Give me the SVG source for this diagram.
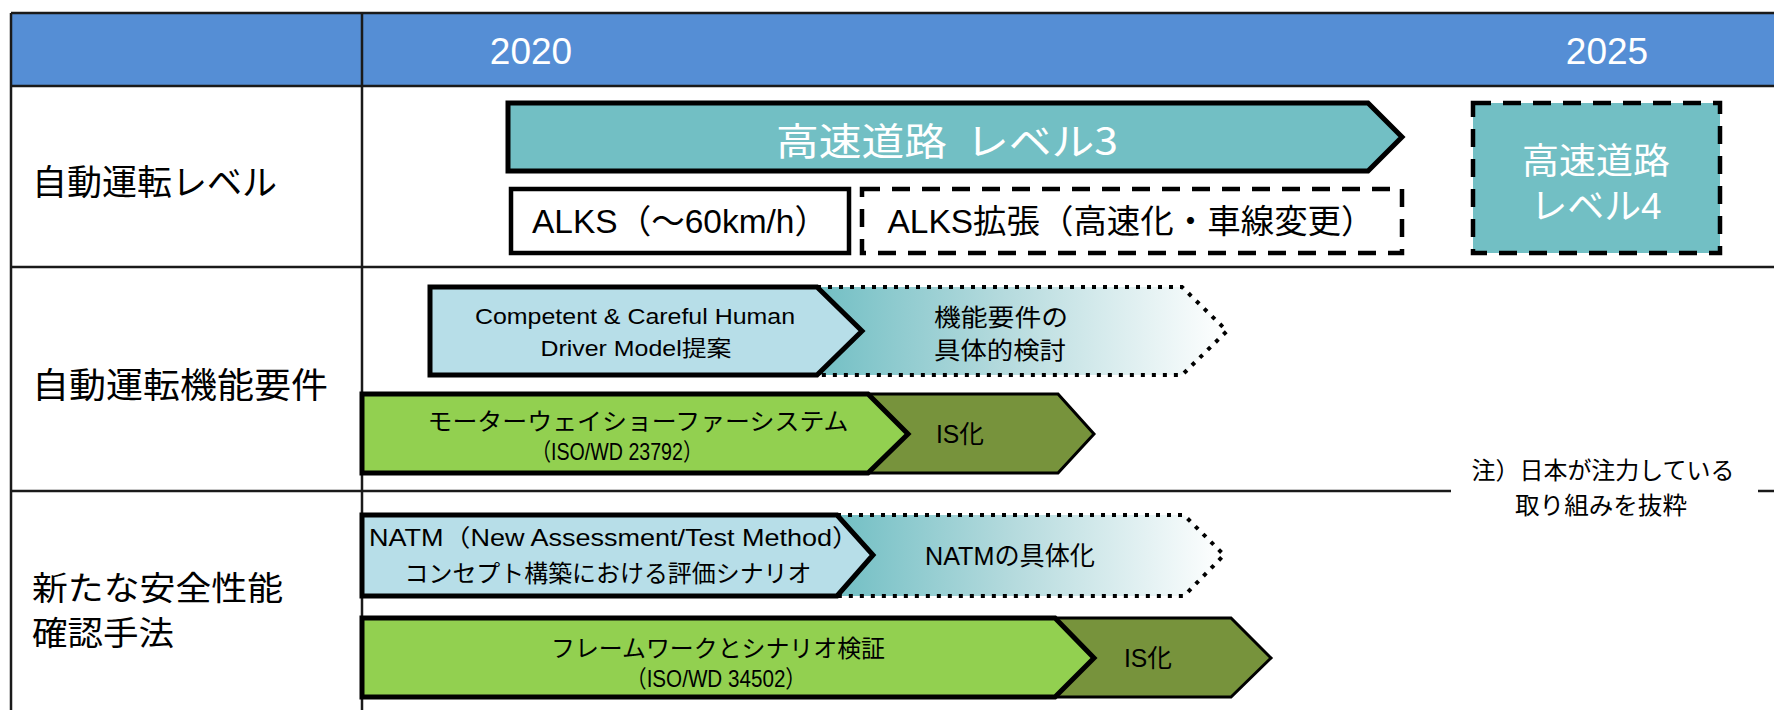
<svg xmlns="http://www.w3.org/2000/svg" width="1774" height="710" viewBox="0 0 1774 710">
<defs>
<style>
.grid{stroke:#1a1a1a;stroke-width:2.5;fill:none}
.jp{font-family:'Noto Sans CJK JP','Noto Sans CJK SC',sans-serif}
.mx{font-family:'Liberation Sans','Noto Sans CJK JP',sans-serif}
text{dominant-baseline:central}
.c{text-anchor:middle}
.w{fill:#ffffff}
.k{fill:#000000}
.solid{stroke:#000;stroke-width:5;stroke-linejoin:miter}
.thin{stroke:#000;stroke-width:3;stroke-linejoin:miter}
.dash{stroke:#000;stroke-width:4.5;stroke-dasharray:18 12;fill:none}
.dot{stroke:#000;stroke-width:4;stroke-dasharray:4 7}
.teal{fill:#72BFC4}
.lblue{fill:#B7DEE8}
.green{fill:#92D050}
.dgreen{fill:#77933C}
</style>
<linearGradient id="fade" x1="0" y1="0" x2="1" y2="0">
<stop offset="0" stop-color="#72BFC4"/>
<stop offset="0.45" stop-color="#B4DADD"/>
<stop offset="1" stop-color="#FFFFFF"/>
</linearGradient>
</defs>
<rect width="1774" height="710" fill="#ffffff"/>

<g id="table">
<rect x="11" y="13" width="1763" height="73" fill="#558ED5"/>
<line class="grid" x1="11" y1="13" x2="1774" y2="13"/>
<line class="grid" x1="11" y1="86" x2="1774" y2="86"/>
<line class="grid" x1="11" y1="267" x2="1774" y2="267"/>
<line class="grid" x1="11" y1="491" x2="1451" y2="491"/>
<line class="grid" x1="1758" y1="491" x2="1774" y2="491"/>
<line class="grid" x1="11" y1="13" x2="11" y2="710"/>
<line class="grid" x1="362" y1="13" x2="362" y2="710"/>
<text class="mx c w" x="531" y="51" font-size="37">2020</text>
<text class="mx c w" x="1607" y="51" font-size="37">2025</text>
<text class="jp k" x="32" y="179" font-size="35" textLength="245" lengthAdjust="spacingAndGlyphs">自動運転レベル</text>
<text class="jp k" x="32" y="382" font-size="35" textLength="296" lengthAdjust="spacingAndGlyphs">自動運転機能要件</text>
<text class="jp k" x="32" y="586" font-size="33" textLength="251" lengthAdjust="spacingAndGlyphs">新たな安全性能</text>
<text class="jp k" x="32" y="631" font-size="33" textLength="142" lengthAdjust="spacingAndGlyphs">確認手法</text>
</g>

<g id="note">
<text class="jp c k" x="1603" y="468" font-size="24" textLength="263" lengthAdjust="spacingAndGlyphs">注）日本が注力している</text>
<text class="jp c k" x="1601" y="503" font-size="24" textLength="172" lengthAdjust="spacingAndGlyphs">取り組みを抜粋</text>
</g>

<g id="connectors"></g>

<g id="level3">
<polygon class="teal solid" points="508,103 1368,103 1402,137 1368,171 508,171"/>
<text class="jp c w" x="947" y="138" font-size="38" textLength="342" lengthAdjust="spacingAndGlyphs">高速道路&#160;&#160;レベル3</text>
</g>

<g id="alks">
<rect x="511" y="189" width="338" height="64" fill="#ffffff" stroke="#000" stroke-width="4.5"/>
<text class="mx c k" x="680" y="221" font-size="33" textLength="296" lengthAdjust="spacingAndGlyphs">ALKS（～60km/h）</text>
</g>

<g id="alks-ext">
<rect x="862" y="189" width="540" height="64" fill="#ffffff" class="dash"/>
<text class="mx c k" x="1131" y="221" font-size="33" textLength="487" lengthAdjust="spacingAndGlyphs">ALKS拡張（高速化・車線変更）</text>
</g>

<g id="level4">
<rect x="1473" y="103" width="247" height="150" class="teal"/>
<rect x="1473" y="103" width="247" height="150" class="dash"/>
<text class="jp c w" x="1596" y="158" font-size="36" textLength="148" lengthAdjust="spacingAndGlyphs">高速道路</text>
<text class="mx c w" x="1596" y="206" font-size="36" textLength="131" lengthAdjust="spacingAndGlyphs">レベル4</text>
</g>

<g id="func-detail">
<polygon fill="url(#fade)" class="dot" points="817,287 1182,287 1227,331 1182,375 817,375 862,331"/>
<text class="jp k" x="934" y="315" font-size="24" textLength="134" lengthAdjust="spacingAndGlyphs">機能要件の</text>
<text class="jp k" x="934" y="348" font-size="24" textLength="132" lengthAdjust="spacingAndGlyphs">具体的検討</text>
</g>

<g id="ccdm">
<polygon class="lblue solid" points="430,287 817,287 862,331 817,375 430,375"/>
<text class="mx c k" x="635" y="316" font-size="22" textLength="320" lengthAdjust="spacingAndGlyphs">Competent &amp; Careful Human</text>
<text class="mx c k" x="636" y="348" font-size="22" textLength="191" lengthAdjust="spacingAndGlyphs">Driver Model提案</text>
</g>

<g id="is-mwc">
<polygon class="dgreen thin" points="868,394 1058,394 1094,434 1058,473 868,473 908,434"/>
<text class="mx c k" x="960" y="434" font-size="25" textLength="48" lengthAdjust="spacingAndGlyphs">IS化</text>
</g>

<g id="mwc">
<polygon class="green solid" points="362,394 868,394 908,434 868,473 362,473"/>
<text class="jp c k" x="638" y="419" font-size="24" textLength="421" lengthAdjust="spacingAndGlyphs">モーターウェイショーファーシステム</text>
<text class="mx c k" x="617" y="451" font-size="24" textLength="171" lengthAdjust="spacingAndGlyphs">（ISO/WD 23792）</text>
</g>

<g id="natm-detail">
<polygon fill="url(#fade)" class="dot" points="837,515 1184,515 1224,555 1184,596 837,596 873,555"/>
<text class="mx c k" x="1010" y="556" font-size="26" textLength="170" lengthAdjust="spacingAndGlyphs">NATMの具体化</text>
</g>

<g id="natm">
<polygon class="lblue solid" points="362,515 837,515 873,555 837,596 362,596"/>
<text class="mx c k" x="614" y="537" font-size="24" textLength="490" lengthAdjust="spacingAndGlyphs">NATM（New Assessment/Test Method）</text>
<text class="jp c k" x="608" y="571" font-size="24" textLength="407" lengthAdjust="spacingAndGlyphs">コンセプト構築における評価シナリオ</text>
</g>

<g id="is-fw">
<polygon class="dgreen thin" points="1055,618 1231,618 1271,658 1231,697 1055,697 1094,658"/>
<text class="mx c k" x="1148" y="658" font-size="25" textLength="48" lengthAdjust="spacingAndGlyphs">IS化</text>
</g>

<g id="framework">
<polygon class="green solid" points="362,618 1055,618 1094,658 1055,697 362,697"/>
<text class="jp c k" x="718" y="646" font-size="24" textLength="334" lengthAdjust="spacingAndGlyphs">フレームワークとシナリオ検証</text>
<text class="mx c k" x="716" y="678" font-size="24" textLength="180" lengthAdjust="spacingAndGlyphs">（ISO/WD 34502）</text>
</g>
</svg>
